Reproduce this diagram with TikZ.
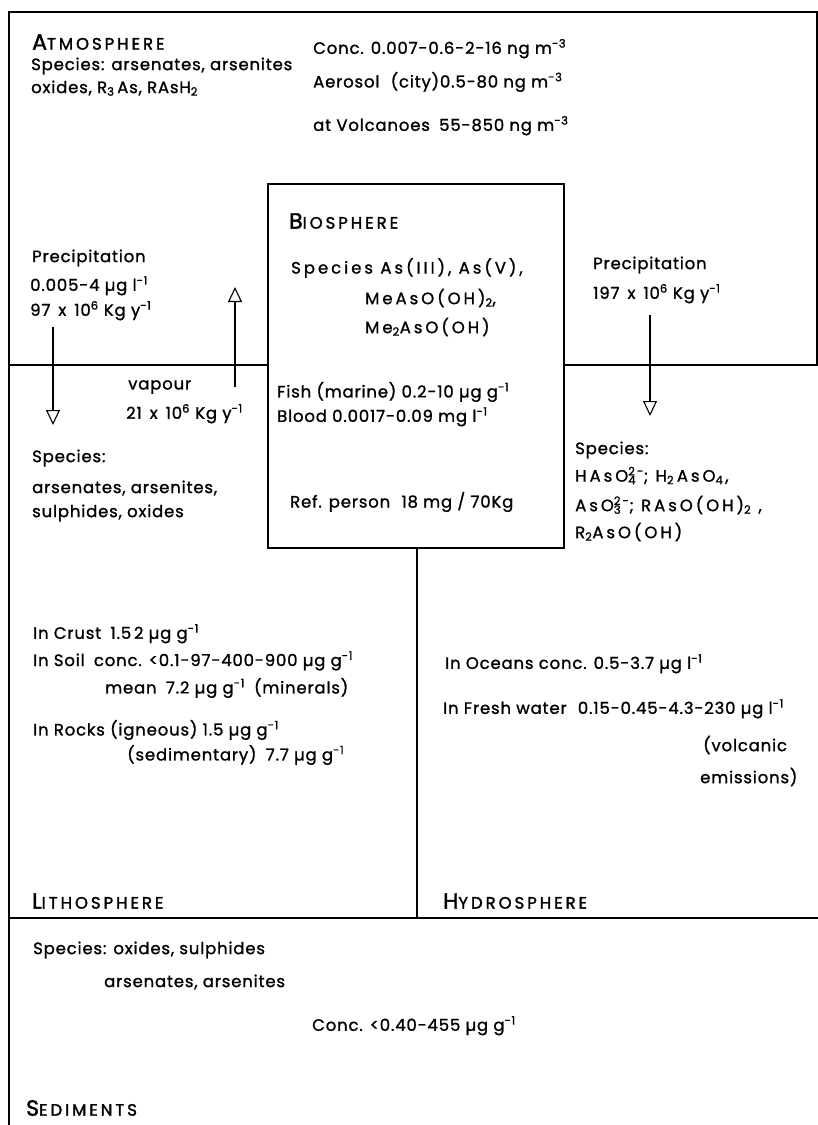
\documentclass[tikz,border=0pt]{standalone}
\usepackage{fontspec}
\setmainfont{Poppins}[LetterSpace=5,FakeBold=1.2]
\usetikzlibrary{arrows.meta}
\newcommand{\sbs}[1]{\smash{\textsubscript{#1}}}
\newcommand{\sps}[1]{\smash{\textsuperscript{#1}}}
\newcommand{\sbsp}[2]{\smash{\rlap{\textsubscript{#1}}\textsuperscript{#2}}}
\newcommand{\hd}[2]{{\fontsize{22}{22}\selectfont\addfontfeature{FakeBold=1.8}#1}{\fontsize{16.5}{16.5}\selectfont\addfontfeature{LetterSpace=18,FakeBold=1.8}#2}}
\newcommand{\xx}{\hspace{8pt}x\hspace{8pt}}
\begin{document}
\begin{tikzpicture}[x=1pt,y=-1pt,
  txt/.style={anchor=west,inner sep=0pt,font=\fontsize{16.5}{18}\selectfont},
  wtxt/.style={txt,font=\fontsize{16.5}{18}\selectfont\addfontfeature{LetterSpace=18}},
  frame/.style={line width=1.5pt},
  flow/.style={line width=1.1pt,-{Triangle[open,length=15pt,width=14pt,line width=1.1pt]}}]
\useasboundingbox (0,0) rectangle (818,1125);
\fill[white] (0,0) rectangle (818,1125);
% frame
\node[draw,frame,anchor=north west,inner sep=0pt,minimum width=296pt,minimum height=364pt] (bio) at (267,183) {};
\coordinate (tl) at (9,12);
\coordinate (tr) at (817,12);
\coordinate (trb) at (817,365);
\coordinate (bl) at (9,1125);
\coordinate (mL) at (9,365);
\coordinate (mR) at (818,365);
\coordinate (dv) at (417,918);
\coordinate (lL) at (9,918);
\coordinate (lR) at (818,918);
\draw[frame] (bl) -- (tl) -- (tr) -- (trb);
\draw[frame] (mL) -- (mL -| bio.west);
\draw[frame] (mR) -- (mR -| bio.east);
\draw[frame] (dv |- bio.south) -- (dv);
\draw[frame] (lL) -- (lR);
% atmosphere
\node[txt] (atm) at (32,42) {\hd{A}{TMOSPHERE}};
\node[txt] (atmsp1) at (31,66) {Species: arsenates, arsenites};
\node[txt] (atmsp2) at (31,88) {oxides, R\sbs{3}\,As, RAsH\sbs{2}};
\node[txt] (conc) at (313,50) {Conc. 0.007-0.6-2-16 ng m\sps{-3}};
\node[txt] (aer) at (313,82) {Aerosol\hspace{6pt} (city)0.5-80 ng m\sps{-3}};
\node[txt] (volc) at (313,127) {at Volcanoes\hspace{4pt} 55-850 ng m\sps{-3}};
% biosphere
\node[txt] (bioh) at (289,221) {\hd{B}{IOSPHERE}};
\node[wtxt] (bsp1) at (291,268) {Species As(III), As(V),};
\node[wtxt] (bsp2) at (365,298) {MeAsO(OH)\sbs{2},};
\node[wtxt] (bsp3) at (365,327) {Me\sbs{2}AsO(OH)};
\node[txt] (fish) at (277,392) {Fish (marine) 0.2-10 µg g\sps{-1}};
\node[txt] (blood) at (277,418) {Blood 0.0017-0.09 mg l\sps{-1}};
\node[txt] (ref) at (290,502) {Ref. person\hspace{6pt} 18 mg / 70Kg};
% left middle
\node[txt] (lprec) at (32,258) {Precipitation};
\node[txt] (lprec2) at (30,287) {0.005-4 µg l\sps{-1}};
\node[txt] (lprec3) at (30,312) {97\xx10\sps{6} Kg y\sps{-1}};
\node[txt] (vap1) at (128,387) {vapour};
\node[txt] (vap2) at (126,415) {21\xx10\sps{6} Kg y\sps{-1}};
\node[txt] (lsp1) at (32,458) {Species:};
\node[txt] (lsp2) at (32,488) {arsenates, arsenites,};
\node[txt] (lsp3) at (32,513) {sulphides, oxides};
\coordinate (a1s) at (53,327);
\coordinate (a1e) at (53,425);
\coordinate (a2s) at (235,387);
\coordinate (a2e) at (235,287);
\coordinate (a3s) at (650,315);
\coordinate (a3e) at (650,416);
\draw[flow] (a1s) -- (a1e);
\draw[flow] (a2s) -- (a2e);
\draw[flow] (a3s) -- (a3e);
% right middle
\node[txt] (rprec) at (593,265) {Precipitation};
\node[txt] (rprec2) at (593,295) {197\xx10\sps{6} Kg y\sps{-1}};
\node[txt] (rsp1) at (575,450) {Species:};
\node[wtxt] (rsp2) at (575,477) {H\hspace{3pt}AsO\sbsp{4}{2-}; H\sbs{2}\,AsO\sbs{4}\hspace{2pt},};
\node[wtxt] (rsp3) at (575,505) {AsO\sbsp{3}{2-}; RAsO(OH)\sbs{2} ,};
\node[wtxt] (rsp4) at (575,532) {R\sbs{2}AsO(OH)};
% lithosphere
\node[txt] (cr) at (33,635) {In Crust\hspace{4pt} 1.5\,2 µg g\sps{-1}};
\node[txt] (soil) at (33,662) {In Soil\hspace{4pt} conc. <0.1-97-400-900 µg g\sps{-1}};
\node[txt] (mean) at (105,688) {mean\hspace{4pt} 7.2 µg g\sps{-1}\hspace{4pt} (minerals)};
\node[txt] (rock) at (33,730) {In Rocks (igneous) 1.5 µg g\sps{-1}};
\node[txt] (sedm) at (127,755) {(sedimentary)\hspace{4pt} 7.7 µg g\sps{-1}};
\node[txt] (lith) at (32,901) {\hd{L}{ITHOSPHERE}};
% hydrosphere
\node[txt] (oce) at (445,665) {In Oceans conc. 0.5-3.7 µg l\sps{-1}};
\node[txt] (fw) at (443,710) {In Fresh water\hspace{6pt} 0.15-0.45-4.3-230 µg l\sps{-1}};
\node[txt] (vol1) at (703,745) {(volcanic};
\node[txt] (vol2) at (700,777) {emissions)};
\node[txt] (hyd) at (443,901) {\hd{H}{YDROSPHERE}};
% sediments
\node[txt] (ssp1) at (33,950) {Species: oxides, sulphides};
\node[txt] (ssp2) at (104,982) {arsenates, arsenites};
\node[txt] (sc) at (312,1027) {Conc. <0.40-455 µg g\sps{-1}};
\node[txt] (sedh) at (26,1108) {\hd{S}{EDIMENTS}};
\end{tikzpicture}
\end{document}
